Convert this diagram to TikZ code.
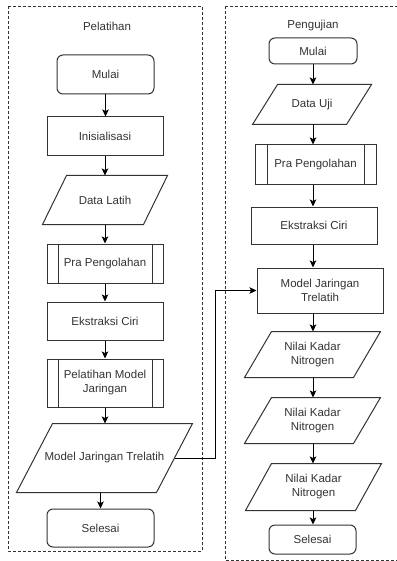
\documentclass[tikz,border=0pt]{standalone}
\usepackage{fontspec}
\setmainfont{Liberation Sans}
\usetikzlibrary{arrows.meta,calc}
\definecolor{ln}{HTML}{333333}
\definecolor{tx}{HTML}{333333}
\tikzset{
  base/.style={draw=ln, line width=1pt, text=tx, align=center, inner sep=0pt,
    font=\fontsize{11.5}{14}\selectfont},
  term/.style={base, rounded corners=6pt},
  proc/.style={base},
  pproc/.style={base, path picture={
    \draw[ln, line width=1pt] ([xshift=#1]path picture bounding box.north west) -- ([xshift=#1]path picture bounding box.south west);
    \draw[ln, line width=1pt] ([xshift=-#1]path picture bounding box.north east) -- ([xshift=-#1]path picture bounding box.south east);}},
  iobox/.style={base, draw=none},
  arr/.style={draw=black, line width=1pt, -{Stealth[length=7pt,width=6.5pt,inset=1.5pt]}},
  panel/.style={draw=ln, line width=0.8pt, dash pattern=on 3pt off 2pt},
  ttl/.style={text=tx, font=\fontsize{11.5}{14}\selectfont},
}
\newcommand\drawpara[2]{\draw[ln, line width=1pt] ([xshift=#2]#1.north west) -- (#1.north east) -- ([xshift=-#2]#1.south east) -- (#1.south west) -- cycle;}
\begin{document}
\begin{tikzpicture}[x=1pt,y=-1pt]
\useasboundingbox (0,0) rectangle (396,561);
% panels
\draw[panel] (8,6) rectangle (202,551);
\draw[panel] (225,6) -- (399,6) (225,6) -- (225,560) -- (399,560);
\node[ttl] (tL) at (107,26) {Pelatihan};
\node[ttl] (tR) at (313,26) {Pengujian};
% left column
\node[term, minimum width=97pt, minimum height=39pt] (lmul) at (105.5,74.5) {Mulai};
\node[proc, minimum width=116pt, minimum height=39pt] (lini) at (105,136.5) {Inisialisasi};
\node[iobox, minimum width=124pt, minimum height=48pt] (ldat) at (105,200) {Data Latih};
\drawpara{ldat}{24pt}
\node[pproc=11pt, minimum width=116pt, minimum height=39pt] (lpra) at (105,263.5) {Pra Pengolahan};
\node[proc, minimum width=116pt, minimum height=38pt] (leks) at (105,321) {Ekstraksi Ciri};
\node[pproc=11pt, minimum width=116pt, minimum height=48pt] (lpel) at (105,383) {Pelatihan Model\\Jaringan};
\node[iobox, minimum width=175pt, minimum height=68pt] (lmjt) at (104.5,458) {Model Jaringan Trelatih};
\drawpara{lmjt}{36pt}
\node[term, minimum width=107pt, minimum height=38pt] (lsel) at (100.5,528) {Selesai};
% right column
\node[term, minimum width=88pt, minimum height=26pt] (rmul) at (313,51) {Mulai};
\node[iobox, minimum width=118pt, minimum height=39pt] (rdat) at (312,104.5) {Data Uji};
\drawpara{rdat}{25pt}
\node[pproc=12pt, minimum width=121pt, minimum height=40pt] (rpra) at (315.5,165) {Pra Pengolahan};
\node[proc, minimum width=126pt, minimum height=37pt] (reks) at (314,225.5) {Ekstraksi Ciri};
\node[proc, minimum width=126pt, minimum height=45pt] (rmjt) at (320,290.5) {Model Jaringan\\Trelatih};
\node[iobox, minimum width=135pt, minimum height=45pt] (rn1) at (312.5,354.5) {Nilai Kadar\\Nitrogen};
\drawpara{rn1}{27pt}
\node[iobox, minimum width=135pt, minimum height=45pt] (rn2) at (312.5,420.5) {Nilai Kadar\\Nitrogen};
\drawpara{rn2}{27pt}
\node[iobox, minimum width=135pt, minimum height=46pt] (rn3) at (313.5,487) {Nilai Kadar\\Nitrogen};
\drawpara{rn3}{26pt}
\node[term, minimum width=87pt, minimum height=29pt] (rsel) at (312.5,539.5) {Selesai};
% left arrows
\draw[arr] (lmul.south) -- (lmul.south |- lini.north);
\draw[arr] (lini.south) -- (lini.south |- ldat.north);
\draw[arr] (ldat.south) -- (ldat.south |- lpra.north);
\draw[arr] (lpra.south) -- (lpra.south |- leks.north);
\draw[arr] (leks.south) -- (leks.south |- lpel.north);
\draw[arr] (lpel.south) -- (lpel.south |- lmjt.north);
\draw[arr] (lmjt.south -| lsel.north) -- (lsel.north);
% right arrows
\draw[arr] (rmul.south) -- (rmul.south |- rdat.north);
\draw[arr] (rmul.south |- rdat.south) -- (rmul.south |- rpra.north);
\draw[arr] (rmul.south |- rpra.south) -- (rmul.south |- reks.north);
\draw[arr] (rmul.south |- reks.south) -- (rmul.south |- rmjt.north);
\draw[arr] (rmul.south |- rmjt.south) -- (rmul.south |- rn1.north);
\draw[arr] (rmul.south |- rn1.south) -- (rmul.south |- rn2.north);
\draw[arr] (rmul.south |- rn2.south) -- (rmul.south |- rn3.north);
\draw[arr] (rmul.south |- rn3.south) -- (rmul.south |- rsel.north);
% cross connector
\coordinate (lmjtR) at ($(lmjt.east)+(-18pt,0)$);
\coordinate (bend) at (215,458);
\draw[arr] (lmjtR) -- (bend) |- (rmjt.west);
\end{tikzpicture}
\end{document}
